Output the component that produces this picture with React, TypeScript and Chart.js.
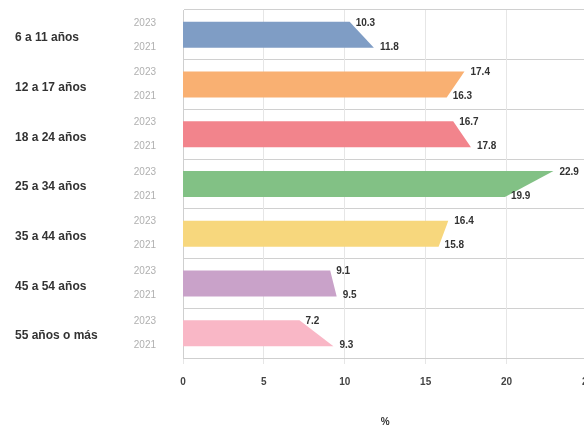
import { useEffect, useRef } from "react";
import { Chart, registerables } from "chart.js";

Chart.register(...registerables);

const categories = [
  "6 a 11 años",
  "12 a 17 años",
  "18 a 24 años",
  "25 a 34 años",
  "35 a 44 años",
  "45 a 54 años",
  "55 años o más",
];
const topYearLabel = "2023";
const bottomYearLabel = "2021";
const topValues = [10.3, 17.4, 16.7, 22.9, 16.4, 9.1, 7.2];
const bottomValues = [11.8, 16.3, 17.8, 19.9, 15.8, 9.5, 9.3];
const barColors = ["#7f9dc5", "#f9b072", "#f2848c", "#82c185", "#f7d77d", "#c9a2c9", "#f9b7c6"];
const xTickValues = [0, 5, 10, 15, 20, 25];
const xTitle = "%";

const FONT = "'Liberation Sans', Arial, sans-serif";

const slopeBars = {
  id: "slopeBars",
  beforeDatasetsDraw(chart: any) {
    const { ctx, scales } = chart;
    const x = scales.x;
    const y = scales.y;
    const base = x.getPixelForValue(0);
    const half = 13;
    categories.forEach((_c, i) => {
      const yc = y.getPixelForValue(i);
      ctx.save();
      ctx.fillStyle = barColors[i];
      ctx.beginPath();
      ctx.moveTo(base, yc - half);
      ctx.lineTo(x.getPixelForValue(topValues[i]), yc - half);
      ctx.lineTo(x.getPixelForValue(bottomValues[i]), yc + half);
      ctx.lineTo(base, yc + half);
      ctx.closePath();
      ctx.fill();
      ctx.restore();
    });
  },
  afterDatasetsDraw(chart: any) {
    const { ctx, scales } = chart;
    const x = scales.x;
    const y = scales.y;
    const off = 12;
    ctx.save();
    ctx.font = `bold 10px ${FONT}`;
    ctx.fillStyle = "#333";
    ctx.textAlign = "left";
    ctx.textBaseline = "middle";
    categories.forEach((_c, i) => {
      const yc = y.getPixelForValue(i);
      ctx.fillText(topValues[i].toFixed(1), x.getPixelForValue(topValues[i]) + 6, yc - off);
      ctx.fillText(bottomValues[i].toFixed(1), x.getPixelForValue(bottomValues[i]) + 6, yc + off);
    });
    ctx.font = `10px ${FONT}`;
    ctx.fillStyle = "#b0b0b0";
    ctx.textAlign = "right";
    categories.forEach((_c, i) => {
      const yc = y.getPixelForValue(i);
      ctx.fillText(topYearLabel, 148, yc - off);
      ctx.fillText(bottomYearLabel, 148, yc + off);
    });
    ctx.restore();
  },
};

export default function App() {
  const ref = useRef<HTMLCanvasElement | null>(null);
  useEffect(() => {
    if (!ref.current) return;
    const chart = new Chart(ref.current, {
      type: "bar",
      data: {
        labels: categories,
        datasets: [
          {
            label: topYearLabel,
            data: topValues,
            backgroundColor: "rgba(0,0,0,0)",
            borderWidth: 0,
          },
        ],
      },
      options: {
        indexAxis: "y",
        responsive: false,
        animation: false,
        devicePixelRatio: 1,
        layout: { padding: { left: 7, top: 2, right: 0, bottom: 0 } },
        plugins: { legend: { display: false }, tooltip: { enabled: false } },
        scales: {
          y: {
            type: "category",
            offset: true,
            grid: { offset: true, color: "#d0d0d0", drawTicks: false },
            border: { color: "#cfcfcf" },
            ticks: {
              crossAlign: "far",
              labelOffset: 3,
              color: "#333",
              font: { family: FONT, size: 12, weight: "bold" },
            },
            afterFit(scale: any) {
              scale.width = 168;
              scale.paddingTop = 0;
              scale.paddingBottom = 0;
            },
          },
          x: {
            type: "linear",
            min: 0,
            max: 25,
            afterBuildTicks(scale: any) {
              scale.ticks = xTickValues.map((v) => ({ value: v }));
            },
            grid: { color: "#e6e6e6", tickLength: 6 },
            border: { color: "#cfcfcf" },
            ticks: {
              padding: 12,
              color: "#444",
              font: { family: FONT, size: 10, weight: "bold" },
            },
            title: {
              display: true,
              text: xTitle,
              color: "#333",
              font: { family: FONT, size: 10, weight: "bold" },
              padding: { top: 0, bottom: 1 },
            },
            afterFit(scale: any) {
              scale.height = 71;
            },
          },
        },
      },
      plugins: [slopeBars],
    });
    return () => chart.destroy();
  }, []);
  return (
    <div style={{ position: "absolute", left: 8, top: 8, width: 576, height: 421, overflow: "hidden" }}>
      <canvas ref={ref} width={597} height={421} style={{ width: 597, height: 421 }} />
    </div>
  );
}
